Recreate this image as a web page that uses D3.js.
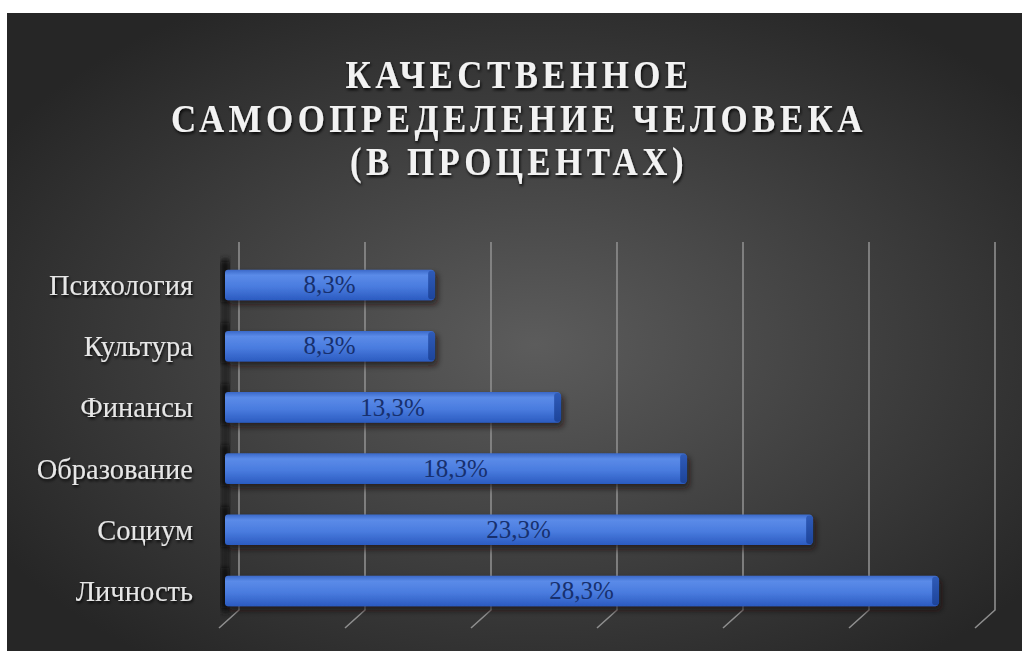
<!DOCTYPE html>
<html>
<head>
<meta charset="utf-8">
<script src="https://cdn.jsdelivr.net/npm/d3@7"></script>
<style>
  body { margin: 0; background: #fff; }
  svg { display: block; }
</style>
</head>
<body>
<svg id="chart"></svg>
<script>
// data
const categories = ["Психология", "Культура", "Финансы", "Образование", "Социум", "Личность"];
const values = [8.3, 8.3, 13.3, 18.3, 23.3, 28.3];
const gridTicks = [0, 5, 10, 15, 20, 25, 30];
const titleLines = ["КАЧЕСТВЕННОЕ", "САМООПРЕДЕЛЕНИЕ ЧЕЛОВЕКА", "(В ПРОЦЕНТАХ)"];

const svgWidth = 1022, svgHeight = 651;
const depthX = 14, depthY = 18;   // 3d offset of back wall
const titleWidths = [347, 696, 338];

const chart = d3.select("#chart")
    .attr("width", svgWidth)
    .attr("height", svgHeight);

const defs = chart.append("defs");

var bg = defs.append("radialGradient").attr("id", "bg")
    .attr("cx", "52%").attr("cy", "52%").attr("r", "62%");
bg.append("stop").attr("offset", "0%").attr("stop-color", "#5c5c5c");
bg.append("stop").attr("offset", "100%").attr("stop-color", "#262626");

var barGrad = defs.append("linearGradient").attr("id", "barGrad")
    .attr("x1", 0).attr("y1", 0).attr("x2", 0).attr("y2", 1);
barGrad.append("stop").attr("offset", "0%").attr("stop-color", "#3a68c8");
barGrad.append("stop").attr("offset", "18%").attr("stop-color", "#5b8be8");
barGrad.append("stop").attr("offset", "55%").attr("stop-color", "#4a7cdf");
barGrad.append("stop").attr("offset", "100%").attr("stop-color", "#2b5bc0");

var capGrad = defs.append("linearGradient").attr("id", "capGrad")
    .attr("x1", 0).attr("y1", 0).attr("x2", 0).attr("y2", 1);
capGrad.append("stop").attr("offset", "0%").attr("stop-color", "#2f5bb8");
capGrad.append("stop").attr("offset", "100%").attr("stop-color", "#1d449a");

var shadow = defs.append("filter").attr("id", "shadow")
    .attr("x", "-10%").attr("y", "-50%").attr("width", "120%").attr("height", "220%");
shadow.append("feDropShadow").attr("dx", 3).attr("dy", 4).attr("stdDeviation", 3)
    .attr("flood-color", "#1a1208").attr("flood-opacity", 0.75);

var txtShadow = defs.append("filter").attr("id", "txtShadow")
    .attr("x", "-10%").attr("y", "-30%").attr("width", "120%").attr("height", "160%");
txtShadow.append("feDropShadow").attr("dx", 1).attr("dy", 2).attr("stdDeviation", 1.5)
    .attr("flood-color", "#000").attr("flood-opacity", 0.9);

var blur = defs.append("filter").attr("id", "blur");
blur.append("feGaussianBlur").attr("stdDeviation", 2);

// background
chart.append("rect").attr("x", 7).attr("y", 13)
    .attr("width", svgWidth - 7).attr("height", svgHeight - 13)
    .attr("fill", "url(#bg)");

// scales
var xScale = d3.scaleLinear().domain([0, 30]).range([225, 981]);
var yScale = d3.scaleBand().domain(categories)
    .range([254.4, 621.6]).paddingInner(0.5).paddingOuter(0.25);

// title
chart.append("g").selectAll("text")
    .data(titleLines)
    .enter()
    .append("text")
    .attr("x", 519)
    .attr("y", function(d, i) { return 88 + i * 43.5; })
    .attr("text-anchor", "middle")
    .attr("font-family", "Liberation Serif, serif")
    .attr("font-weight", "bold")
    .attr("font-size", 39)
    .attr("letter-spacing", 5)
    .attr("textLength", function(d, i) { return titleWidths[i]; })
    .attr("lengthAdjust", "spacingAndGlyphs")
    .attr("fill", "#f2f2f2")
    .attr("filter", "url(#txtShadow)")
    .text(function(d) { return d; });

// gridlines with 3d foot
var gridTop = 242, gridBottom = 610;
var grid = chart.append("g").attr("stroke", "#8e8e8e").attr("stroke-width", 1.6).attr("fill", "none");
grid.selectAll("path")
    .data(gridTicks)
    .enter()
    .append("path")
    .attr("d", function(d) {
        var xb = xScale(d) + depthX;
        return "M" + xb + "," + gridTop + "V" + gridBottom + "L" + (xb - 20) + "," + (gridBottom + depthY);
    });

// dark side wall shadow left of bars
chart.append("rect")
    .attr("x", xScale(0) - 4).attr("y", yScale(categories[0]) - 12)
    .attr("width", 9).attr("height", gridBottom - yScale(categories[0]) + 16)
    .attr("fill", "#151515").attr("opacity", 0.6).attr("filter", "url(#blur)");

var bars = chart.append("g").selectAll("g")
    .data(categories)
    .enter()
    .append("g");

var bh = yScale.bandwidth();

// left side faces
bars.append("rect")
    .attr("x", xScale(0) - 4)
    .attr("y", function(d) { return yScale(d) - 8; })
    .attr("width", 8)
    .attr("height", bh + 10)
    .attr("fill", "#0d0d0d")
    .attr("opacity", 0.85)
    .attr("filter", "url(#blur)");

// front faces
bars.append("rect")
    .attr("x", xScale(0))
    .attr("y", function(d) { return yScale(d); })
    .attr("width", function(d, i) { return xScale(values[i]) - xScale(0); })
    .attr("height", bh)
    .attr("rx", 3)
    .attr("fill", "url(#barGrad)")
    .attr("filter", "url(#shadow)");

// right end caps
bars.append("rect")
    .attr("x", function(d, i) { return xScale(values[i]) - 6; })
    .attr("y", function(d) { return yScale(d) + 1; })
    .attr("width", 7)
    .attr("height", bh - 2)
    .attr("rx", 3)
    .attr("fill", "url(#capGrad)");

// value labels
bars.append("text")
    .attr("x", function(d, i) { return (xScale(0) + xScale(values[i])) / 2; })
    .attr("y", function(d) { return yScale(d) + bh / 2; })
    .attr("dy", "0.33em")
    .attr("text-anchor", "middle")
    .attr("font-family", "Liberation Serif, serif")
    .attr("font-size", 25)
    .attr("fill", "#17306e")
    .text(function(d, i) { return String(values[i]).replace(".", ",") + "%"; });

// category labels
chart.append("g").selectAll("text")
    .data(categories)
    .enter()
    .append("text")
    .attr("x", 193)
    .attr("y", function(d) { return yScale(d) + bh / 2; })
    .attr("dy", "0.35em")
    .attr("text-anchor", "end")
    .attr("font-family", "Liberation Serif, serif")
    .attr("font-size", 28.5)
    .attr("fill", "#e6e6e6")
    .attr("filter", "url(#txtShadow)")
    .text(function(d) { return d; });
</script>
</body>
</html>
